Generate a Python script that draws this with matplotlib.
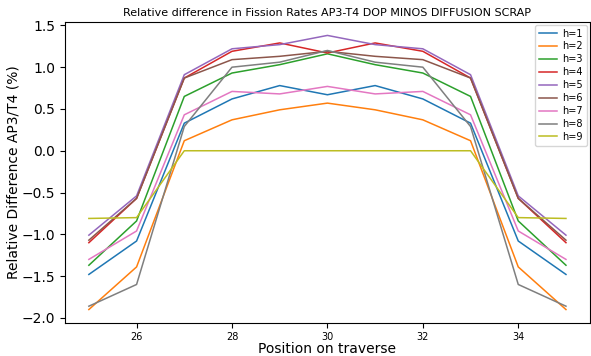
import numpy as np
import matplotlib
matplotlib.use("Agg")
import matplotlib.pyplot as plt

# positions on traverse
pos = [25, 26, 27, 28, 29, 30, 31, 32, 33, 34, 35]

# relative difference (%) per h
h1 = [-1.48, -1.08, 0.33, 0.62, 0.78, 0.67, 0.78, 0.62, 0.33, -1.08, -1.48]
h2 = [-1.90, -1.39, 0.12, 0.37, 0.49, 0.57, 0.49, 0.37, 0.12, -1.39, -1.90]
h3 = [-1.37, -0.84, 0.65, 0.93, 1.03, 1.16, 1.03, 0.93, 0.65, -0.84, -1.37]
h4 = [-1.10, -0.57, 0.87, 1.19, 1.29, 1.17, 1.29, 1.19, 0.87, -0.57, -1.10]
h5 = [-1.01, -0.54, 0.91, 1.22, 1.27, 1.38, 1.27, 1.22, 0.91, -0.54, -1.01]
h6 = [-1.07, -0.57, 0.87, 1.09, 1.13, 1.19, 1.13, 1.09, 0.87, -0.57, -1.07]
h7 = [-1.30, -0.96, 0.43, 0.71, 0.68, 0.77, 0.68, 0.71, 0.43, -0.96, -1.30]
h8 = [-1.86, -1.60, 0.29, 1.00, 1.06, 1.20, 1.06, 1.00, 0.29, -1.60, -1.86]
h9 = [-0.81, -0.80, 0.0, 0.0, 0.0, 0.0, 0.0, 0.0, 0.0, -0.80, -0.81]

series = [h1, h2, h3, h4, h5, h6, h7, h8, h9]
labels = ["h=%d" % (i + 1) for i in range(9)]

fig = plt.figure(figsize=(5.91, 3.56), dpi=100)
ax = fig.add_axes([0.110, 0.092, 0.888, 0.847])

for vals, lab in zip(series, labels):
    ax.plot(pos, vals, linewidth=1.1, label=lab)

ax.set_title("Relative difference in Fission Rates AP3-T4 DOP MINOS DIFFUSION SCRAP", fontsize=8, pad=4)
ax.set_xlabel("Position on traverse", fontsize=10, labelpad=0)
ax.set_ylabel("Relative Difference AP3/T4 (%)", fontsize=10)
ax.yaxis.set_label_coords(-0.084, 0.5)
ax.tick_params(axis="x", labelsize=7, pad=2.5)
ax.tick_params(axis="y", labelsize=10)
ax.legend(fontsize=7, loc="upper right", labelspacing=0.3, handlelength=1.8,
          borderaxespad=0.3, handletextpad=0.6)

fig.savefig("out.png", dpi=100)
